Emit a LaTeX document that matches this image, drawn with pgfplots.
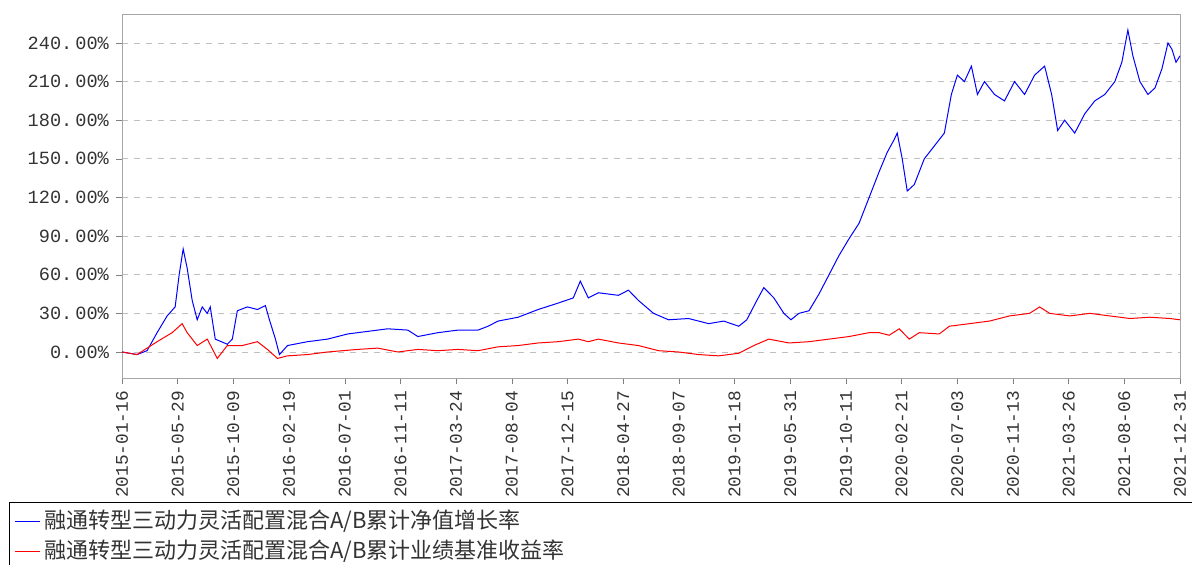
\documentclass[border=0pt]{standalone}
\usepackage{pgfplots}
\pgfplotsset{compat=1.18}
\usepackage{fontspec}
\setmainfont{Liberation Mono}
\newfontfamily\cjk{Noto Sans CJK SC}
\begin{document}
\begin{tikzpicture}
\path[use as bounding box] (-61pt,-93.5pt) rectangle (535pt,189pt);
\begin{axis}[at={(0,0)},anchor=south west,scale only axis,width=529pt,height=182pt,
 xmin=125,xmax=1180,ymin=-20.2,ymax=262.5,
 /pgf/number format/assume math mode=true,
 xtick={125,180.53,236.05,291.58,347.1,402.63,458.16,513.68,569.21,624.74,680.26,735.79,791.31,846.84,902.37,957.89,1013.42,1068.95,1124.47,1180},
 xticklabels={2015-01-16,2015-05-29,2015-10-09,2016-02-19,2016-07-01,2016-11-11,2017-03-24,2017-08-04,2017-12-15,2018-04-27,2018-09-07,2019-01-18,2019-05-31,2019-10-11,2020-02-21,2020-07-03,2020-11-13,2021-03-26,2021-08-06,2021-12-31},
 xticklabel style={rotate=90,anchor=east,font=\fontsize{8.9}{9}\selectfont,text=black!80},
 ytick={0,30,60,90,120,150,180,210,240},
 yticklabels={0.\,00\%,30.\,00\%,60.\,00\%,90.\,00\%,120.\,00\%,150.\,00\%,180.\,00\%,210.\,00\%,240.\,00\%},
 yticklabel style={font=\fontsize{9.3}{9}\selectfont,text=black!80},
 ymajorgrids,grid style={dashed,gray!50},
 tick align=outside,xtick pos=bottom,ytick pos=left,major tick length=3pt,
 axis line style={gray!70},
]
\addplot[blue,line width=0.5pt] coordinates {(125,0)(140,-2)(150,1)(160,15)(170,28)(178,35)(182,60)(186,80)(190,65)(195,40)(200,25)(205,35)(210,30)(213,35)(218,10)(230,6)(235,10)(240,32)(250,35)(260,33)(268,36)(272,25)(278,10)(282,-2)(290,5)(310,8)(330,10)(350,14)(370,16)(390,18)(410,17)(420,12)(440,15)(460,17)(480,17)(490,20)(500,24)(520,27)(540,33)(560,38)(575,42)(582,55)(590,42)(600,46)(620,44)(630,48)(640,40)(655,30)(670,25)(690,26)(710,22)(725,24)(740,20)(748,25)(758,40)(765,50)(775,42)(785,30)(792,25)(800,30)(810,32)(820,45)(830,60)(840,75)(850,88)(860,100)(870,120)(880,140)(888,155)(895,165)(898,170)(903,150)(908,125)(915,130)(925,150)(935,160)(945,170)(952,200)(958,215)(965,210)(972,222)(978,200)(985,210)(995,200)(1005,195)(1015,210)(1025,200)(1035,215)(1045,222)(1052,200)(1058,172)(1065,180)(1075,170)(1085,185)(1095,195)(1105,200)(1115,210)(1122,225)(1128,250)(1133,230)(1140,210)(1148,200)(1155,205)(1162,220)(1168,240)(1172,235)(1176,225)(1180,230)};
\addplot[red,line width=0.5pt] coordinates {(125,0)(140,-2)(160,8)(175,15)(185,22)(190,15)(200,5)(210,10)(220,-5)(230,5)(245,5)(260,8)(270,2)(280,-5)(290,-3)(310,-2)(330,0)(360,2)(380,3)(400,0)(420,2)(440,1)(460,2)(480,1)(500,4)(520,5)(540,7)(560,8)(580,10)(590,8)(600,10)(620,7)(640,5)(660,1)(680,0)(700,-2)(720,-3)(740,-1)(755,5)(770,10)(790,7)(810,8)(830,10)(850,12)(870,15)(880,15)(890,13)(900,18)(910,10)(920,15)(940,14)(950,20)(970,22)(990,24)(1010,28)(1030,30)(1040,35)(1050,30)(1070,28)(1090,30)(1110,28)(1130,26)(1150,27)(1170,26)(1180,25)};
\end{axis}
\draw[black,line width=0.5pt] (535.5pt,-62.5pt) -- (-56pt,-62.5pt) -- (-56pt,-94pt);
\draw[blue] (-53.5pt,-71.5pt) -- (-41pt,-71.5pt);
\node[anchor=west,inner sep=0pt,font=\cjk\fontsize{11}{11}\selectfont,text=black!80] at (-39pt,-71.5pt) {融通转型三动力灵活配置混合A/B累计净值增长率};
\draw[red] (-53.5pt,-86.5pt) -- (-41pt,-86.5pt);
\node[anchor=west,inner sep=0pt,font=\cjk\fontsize{11}{11}\selectfont,text=black!80] at (-39pt,-86.5pt) {融通转型三动力灵活配置混合A/B累计业绩基准收益率};
\end{tikzpicture}
\end{document}
